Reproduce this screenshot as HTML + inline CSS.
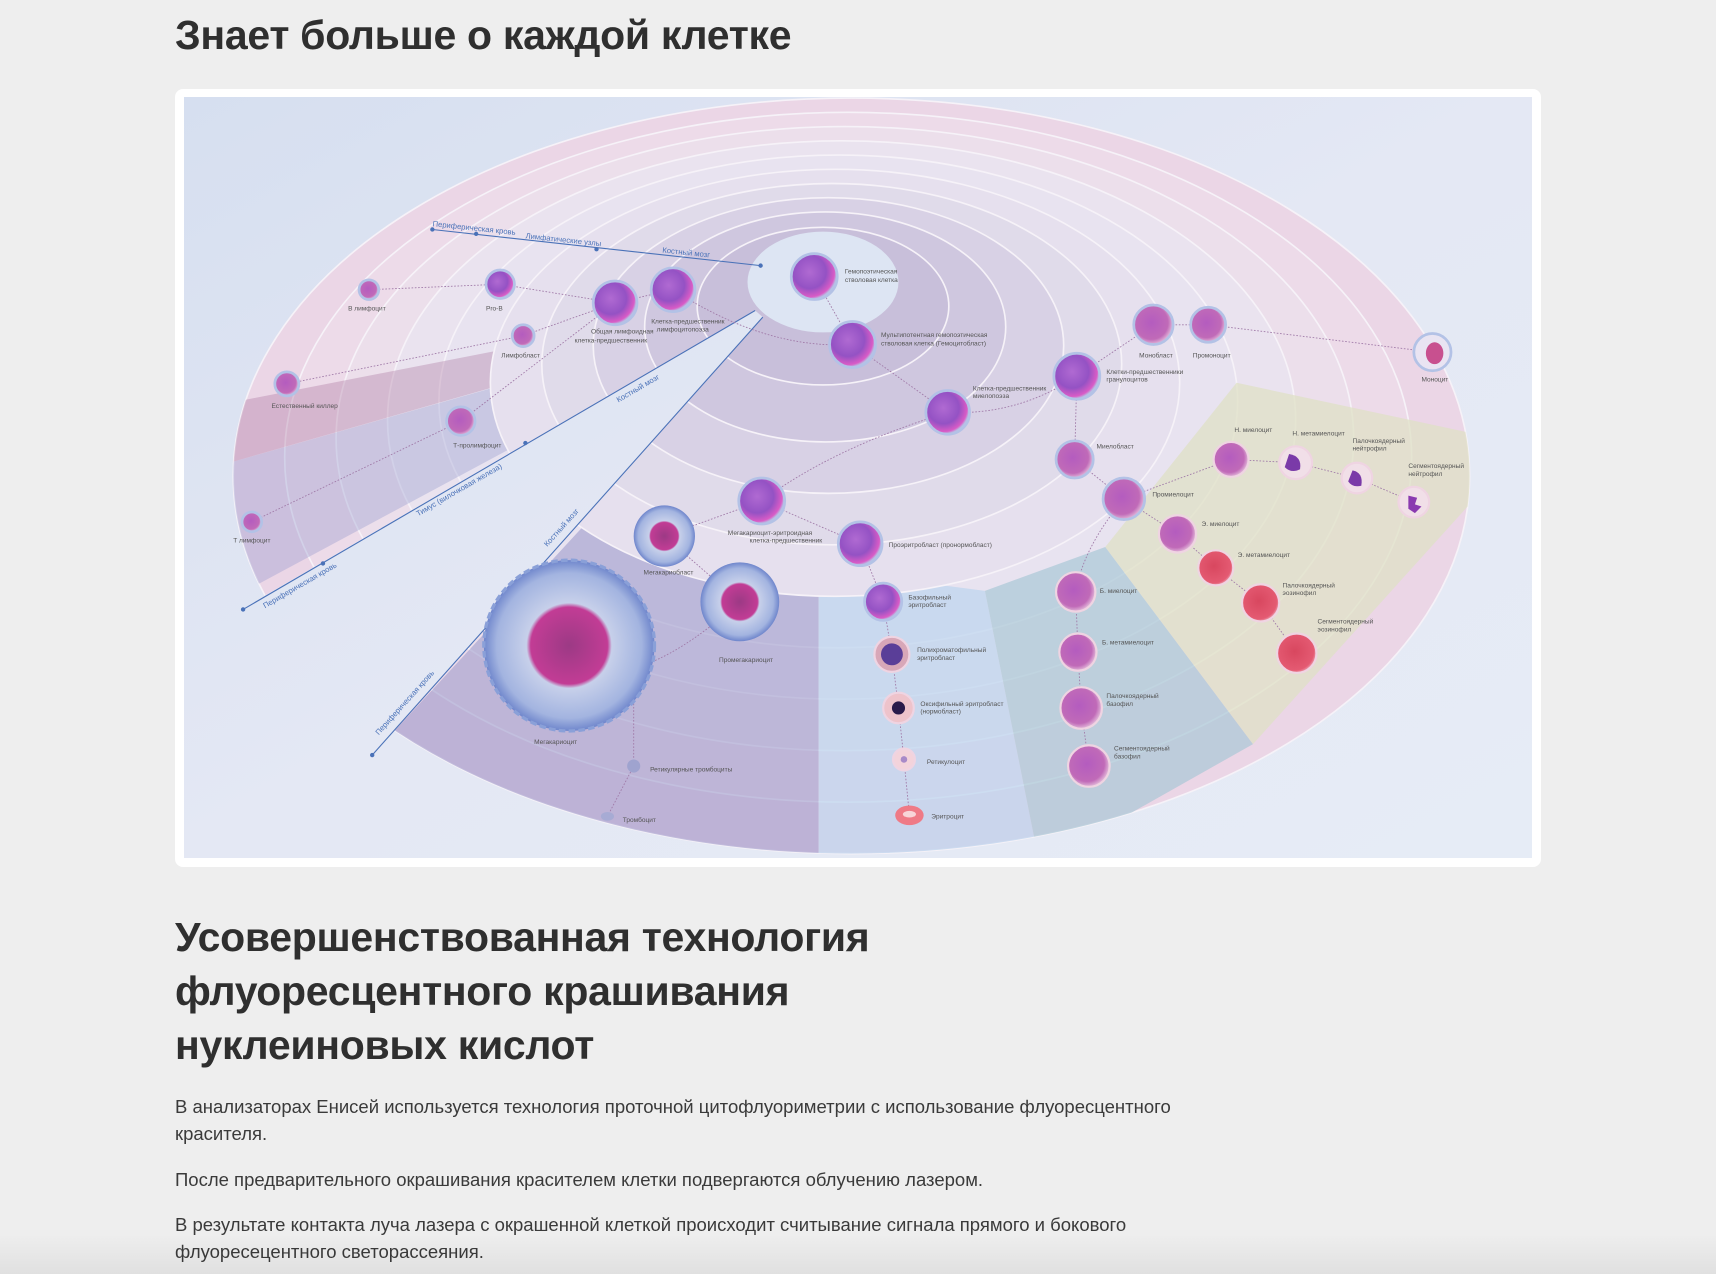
<!DOCTYPE html>
<html><head><meta charset="utf-8">
<style>
html,body{margin:0;padding:0;background:#eeeeee;}
body{width:1716px;height:1274px;position:relative;overflow:hidden;font-family:"Liberation Sans",sans-serif;color:#2e2e2e;}
h1{position:absolute;left:175px;top:12px;margin:0;font-size:41px;font-weight:bold;letter-spacing:-0.3px;color:#2f2f2f;}
.card{position:absolute;left:175px;top:89px;width:1366px;height:778px;background:#fff;border-radius:8px;}
.img{position:absolute;left:184px;top:97px;width:1348px;height:761px;}
h2{position:absolute;left:175px;top:910px;margin:0;font-size:41px;line-height:54px;font-weight:bold;color:#2f2f2f;letter-spacing:-0.3px;}
p{position:absolute;left:175px;margin:0;font-size:18.5px;line-height:27px;color:#3a3a3a;}
.shade{position:absolute;left:0;right:0;bottom:0;height:40px;background:linear-gradient(rgba(0,0,0,0),rgba(0,0,0,0.06));}
</style></head><body>
<h1>Знает больше о каждой клетке</h1>
<div class="card"></div>
<svg class="img" viewBox="168 89 1232 695" preserveAspectRatio="none" xmlns="http://www.w3.org/2000/svg">
<defs>
<linearGradient id="bg" x1="0" y1="0" x2="1" y2="1">
<stop offset="0" stop-color="#d6dff0"/><stop offset="0.5" stop-color="#e4e8f4"/><stop offset="1" stop-color="#e6ecf6"/></linearGradient>
<radialGradient id="cell" cx="0.4" cy="0.4" r="0.6">
<stop offset="0" stop-color="#b06ad2"/><stop offset="0.6" stop-color="#9452c4"/><stop offset="0.9" stop-color="#d95bc6"/><stop offset="1" stop-color="#b7c4e6"/></radialGradient>
<radialGradient id="cellp" cx="0.45" cy="0.45" r="0.6">
<stop offset="0" stop-color="#b45cbf"/><stop offset="0.7" stop-color="#c06ab8"/><stop offset="1" stop-color="#efd6e6"/></radialGradient>
<radialGradient id="cellr" cx="0.45" cy="0.45" r="0.6">
<stop offset="0" stop-color="#d8475f"/><stop offset="0.8" stop-color="#e45a72"/><stop offset="1" stop-color="#f3c3cf"/></radialGradient>
<radialGradient id="mega" cx="0.5" cy="0.5" r="0.5">
<stop offset="0" stop-color="#9c3a85"/><stop offset="0.45" stop-color="#c23c95"/><stop offset="0.5" stop-color="#c7d0ea"/><stop offset="0.85" stop-color="#a3b4e0"/><stop offset="1" stop-color="#6f86cc"/></radialGradient>
<mask id="m">
<rect x="0" y="0" width="2000" height="2000" fill="#fff"/>
<polygon points="690,284 220,557 150,640 150,800 340,690 697,290" fill="#000"/>
</mask>
<clipPath id="disk"><ellipse cx="778" cy="435" rx="565" ry="345"/></clipPath>
</defs>
<rect x="168" y="89" width="1232" height="695" fill="url(#bg)"/>
<g mask="url(#m)">
<g stroke="#f6f2f8" stroke-width="1.5">
<ellipse cx="778" cy="435" rx="565" ry="345" fill="#ebd6e6"/>
<ellipse cx="775" cy="418" rx="515" ry="315" fill="#eddbe9"/>
<ellipse cx="772" cy="401" rx="465" ry="285" fill="#ecdfeb"/>
<ellipse cx="769" cy="384" rx="415" ry="255" fill="#eae3ef"/>
<ellipse cx="766" cy="367" rx="365" ry="225" fill="#e8e3f0"/>
</g>
<g clip-path="url(#disk)">
<polygon points="560,300 150,380 150,440 640,300" fill="#a8739f" opacity="0.35"/>
<polygon points="660,295 150,440 150,580 690,290" fill="#8e95cc" opacity="0.35"/>
<polygon points="700,300 340,690 330,820 748,820 748,520" fill="#9896c9" opacity="0.55"/>
<polygon points="748,520 748,820 950,790 900,540" fill="#bcd4ee" opacity="0.7"/>
<polygon points="900,540 950,790 1145,680 1010,500" fill="#a9c8d6" opacity="0.7"/>
<polygon points="1010,500 1145,680 1380,420 1340,395 1130,350" fill="#dfe0c6" opacity="0.75"/>
</g>
<g stroke="#f6f2f8" stroke-width="1.5">
<ellipse cx="763" cy="350" rx="315" ry="195" fill="#e6e0ee"/>
<ellipse cx="760" cy="333" rx="265" ry="165" fill="#e0dbea"/>
<ellipse cx="757" cy="316" rx="215" ry="135" fill="#d8d1e5"/>
<ellipse cx="754" cy="299" rx="165" ry="105" fill="#cfc7df"/>
<ellipse cx="752" cy="280" rx="115" ry="72" fill="#c8bfda"/>
</g>
<ellipse cx="752" cy="258" rx="69" ry="46" fill="#dde5f3"/>
</g>
<g stroke="#4a72b8" stroke-width="1" fill="#4a72b8">
<line x1="395" y1="210" x2="695" y2="243"/>
<line x1="690" y1="284" x2="222" y2="557"/>
<line x1="697" y1="290" x2="340" y2="690"/>
<circle cx="395" cy="210" r="1.5"/><circle cx="435" cy="214" r="1.5"/><circle cx="545" cy="228" r="1.5"/><circle cx="695" cy="243" r="1.5"/>
<circle cx="480" cy="405" r="1.5"/><circle cx="295" cy="515" r="1.5"/><circle cx="222" cy="557" r="1.5"/><circle cx="340" cy="690" r="1.5"/>
</g>
<g font-family="Liberation Sans,sans-serif" font-size="7" fill="#4a72b8">
<text x="395" y="207" transform="rotate(6 395 207)">Периферическая кровь</text>
<text x="480" y="218" transform="rotate(6 480 218)">Лимфатические узлы</text>
<text x="605" y="231" transform="rotate(6 605 231)">Костный мозг</text>
<text x="565" y="368" transform="rotate(-30 565 368)">Костный мозг</text>
<text x="382" y="472" transform="rotate(-30 382 472)">Тимус (вилочковая железа)</text>
<text x="242" y="556" transform="rotate(-30 242 556)">Периферическая кровь</text>
<text x="500" y="500" transform="rotate(-48 500 500)">Костный мозг</text>
<text x="346" y="672" transform="rotate(-48 346 672)">Периферическая кровь</text>
</g>
<g stroke="#a07aa8" stroke-width="0.8" fill="none" stroke-dasharray="1.5 1.5">
<path d="M337 265 L457 260 L562 277 L615 265"/>
<path d="M478 307 L562 277 M262 351 L478 307 M421 385 L562 277 M230 477 L421 385"/>
<path d="M615 265 Q700 320 779 315 L744 253"/>
<path d="M779 315 L866 377 Q930 380 984 344 L1054 297 L1104 297 L1309 322"/>
<path d="M984 344 L982 420 L1027 456 L1125 420 L1184 423 L1240 437 L1292 459"/>
<path d="M1027 456 L1076 488 L1111 519 L1152 551 L1185 597"/>
<path d="M1027 456 Q990 500 983 541 L985 596 L988 647 L995 700"/>
<path d="M866 377 Q760 410 696 458 L607 490 M696 458 L786 497 L807 550 L815 598 L821 647 L826 694 L831 745"/>
<path d="M607 490 L676 550 M676 550 Q620 600 580 610 M579 640 L579 700 L555 746"/>
</g>
<g stroke="#b3c2e6" stroke-width="2.5">
<circle cx="337" cy="265" r="9" fill="url(#cellp)"/>
<circle cx="457" cy="260" r="13" fill="url(#cell)"/>
<circle cx="562" cy="277" r="20" fill="url(#cell)"/>
<circle cx="615" cy="265" r="20" fill="url(#cell)"/>
<circle cx="744" cy="253" r="21" fill="url(#cell)"/>
<circle cx="779" cy="315" r="21" fill="url(#cell)"/>
<circle cx="478" cy="307" r="10" fill="url(#cellp)"/>
<circle cx="262" cy="351" r="11" fill="url(#cellp)"/>
<circle cx="421" cy="385" r="13" fill="url(#cellp)"/>
<circle cx="866" cy="377" r="20" fill="url(#cell)"/>
<circle cx="984" cy="344" r="21" fill="url(#cell)"/>
<circle cx="1054" cy="297" r="18" fill="url(#cellp)"/>
<circle cx="1104" cy="297" r="16" fill="url(#cellp)"/>
<circle cx="1309" cy="322" r="17" fill="#e9e4f2"/>
<circle cx="982" cy="420" r="17" fill="url(#cellp)"/>
<circle cx="1027" cy="456" r="19" fill="url(#cellp)"/>
<circle cx="230" cy="477" r="9" fill="url(#cellp)"/>
<circle cx="696" cy="458" r="21" fill="url(#cell)"/>
<circle cx="786" cy="497" r="20" fill="url(#cell)"/>
<circle cx="807" cy="550" r="17" fill="url(#cell)"/>
</g>
<ellipse cx="1311" cy="323" rx="8" ry="10" fill="#c8508f"/>
<g stroke="#efd4e2" stroke-width="2">
<circle cx="1125" cy="420" r="16" fill="url(#cellp)"/>
<circle cx="1184" cy="423" r="15" fill="#f1dfe8"/>
<circle cx="1240" cy="437" r="14" fill="#f1dfe8"/>
<circle cx="1292" cy="459" r="14" fill="#f1dfe8"/>
<circle cx="1076" cy="488" r="17" fill="url(#cellp)"/>
<circle cx="1111" cy="519" r="16" fill="url(#cellr)"/>
<circle cx="1152" cy="551" r="17" fill="url(#cellr)"/>
<circle cx="1185" cy="597" r="18" fill="url(#cellr)"/>
<circle cx="983" cy="541" r="18" fill="url(#cellp)"/>
<circle cx="985" cy="596" r="17" fill="url(#cellp)"/>
<circle cx="988" cy="647" r="19" fill="url(#cellp)"/>
<circle cx="995" cy="700" r="19" fill="url(#cellp)"/>
<circle cx="815" cy="598" r="16" fill="#d8a7b8"/>
<circle cx="821" cy="647" r="14" fill="#eec3cb"/>
<circle cx="826" cy="694" r="10" fill="#f3d3db"/>
</g>
<path d="M1178 415 q12 2 10 14 q-8 4 -14 -2" fill="#7a3aa8"/>
<path d="M1236 430 q10 2 8 14 q-8 2 -12 -4" fill="#7a3aa8"/>
<path d="M1287 453 l8 2 l-2 6 l6 2 l-6 6 l-6 -4z" fill="#8a3ab0"/>
<circle cx="815" cy="598" r="10" fill="#5a3e98"/>
<circle cx="821" cy="647" r="6" fill="#2a1a4a"/>
<circle cx="826" cy="694" r="3" fill="#a88ac8"/>
<ellipse cx="831" cy="745" rx="13" ry="9" fill="#ef7a86"/>
<ellipse cx="831" cy="744" rx="6" ry="3" fill="#f8d5d8"/>
<circle cx="607" cy="490" r="28" fill="url(#mega)"/>
<circle cx="676" cy="550" r="36" fill="url(#mega)"/>
<circle cx="520" cy="590" r="78" fill="url(#mega)" stroke="#8aa0d8" stroke-width="3" stroke-dasharray="6 3"/>
<circle cx="579" cy="700" r="6" fill="#9fa3cf"/>
<ellipse cx="555" cy="746" rx="6" ry="4" fill="#a7abd4"/>
<g font-family="Liberation Sans,sans-serif" font-size="6" fill="#555">
<text x="772" y="250">Гемопоэтическая</text><text x="772" y="258">стволовая клетка</text>
<text x="805" y="308">Мультипотентная гемопоэтическая</text><text x="805" y="316">стволовая клетка (Гемоцитобласт)</text>
<text x="595" y="296">Клетка-предшественник</text><text x="600" y="303">лимфоцитопоэза</text>
<text x="540" y="305">Общая лимфоидная</text><text x="525" y="313">клетка-предшественник</text>
<text x="318" y="284">В лимфоцит</text><text x="444" y="284">Pro-B</text>
<text x="458" y="327">Лимфобласт</text><text x="248" y="373">Естественный киллер</text>
<text x="414" y="409">Т-пролимфоцит</text><text x="213" y="496">Т лимфоцит</text>
<text x="889" y="357">Клетка-предшественник</text><text x="889" y="364">миелопоэза</text>
<text x="1011" y="342">Клетки-предшественники</text><text x="1011" y="349">гранулоцитов</text>
<text x="1041" y="327">Монобласт</text><text x="1090" y="327">Промоноцит</text><text x="1299" y="349">Моноцит</text>
<text x="1002" y="410">Миелобласт</text><text x="1053" y="454">Промиелоцит</text>
<text x="1128" y="395">Н. миелоцит</text><text x="1181" y="398">Н. метамиелоцит</text>
<text x="1236" y="405">Палочкоядерный</text><text x="1236" y="412">нейтрофил</text>
<text x="1287" y="428">Сегментоядерный</text><text x="1287" y="435">нейтрофил</text>
<text x="1098" y="481">Э. миелоцит</text><text x="1131" y="509">Э. метамиелоцит</text>
<text x="1172" y="537">Палочкоядерный</text><text x="1172" y="544">эозинофил</text>
<text x="1204" y="570">Сегментоядерный</text><text x="1204" y="577">эозинофил</text>
<text x="1005" y="542">Б. миелоцит</text><text x="1007" y="589">Б. метамиелоцит</text>
<text x="1011" y="638">Палочкоядерный</text><text x="1011" y="645">базофил</text>
<text x="1018" y="686">Сегментоядерный</text><text x="1018" y="693">базофил</text>
<text x="665" y="489">Мегакариоцит-эритроидная</text><text x="685" y="496">клетка-предшественник</text>
<text x="812" y="500">Проэритробласт (пронормобласт)</text>
<text x="830" y="548">Базофильный</text><text x="830" y="555">эритробласт</text>
<text x="838" y="596">Полихроматофильный</text><text x="838" y="603">эритробласт</text>
<text x="841" y="645">Оксифильный эритробласт</text><text x="841" y="652">(нормобласт)</text>
<text x="847" y="698">Ретикулоцит</text><text x="851" y="748">Эритроцит</text>
<text x="588" y="525">Мегакариобласт</text><text x="657" y="605">Промегакариоцит</text>
<text x="488" y="680">Мегакариоцит</text><text x="594" y="705">Ретикулярные тромбоциты</text>
<text x="569" y="751">Тромбоцит</text>
</g>
</svg>
<h2>Усовершенствованная технология<br>флуоресцентного крашивания<br>нуклеиновых кислот</h2>
<p style="top:1093px">В анализаторах Енисей используется технология проточной цитофлуориметрии с использование флуоресцентного<br>красителя.</p>
<p style="top:1166px">После предварительного окрашивания красителем клетки подвергаются облучению лазером.</p>
<p style="top:1211px">В результате контакта луча лазера с окрашенной клеткой происходит считывание сигнала прямого и бокового<br>флуоресецентного светорассеяния.</p>
<div class="shade"></div>
</body></html>
